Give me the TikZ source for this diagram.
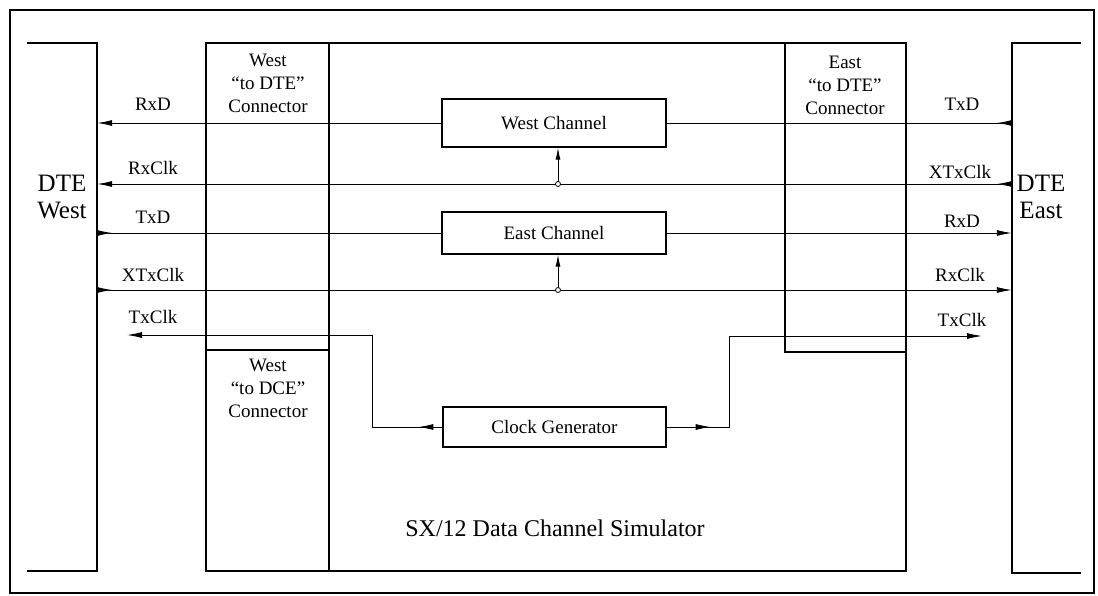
\documentclass[tikz,border=0pt]{standalone}
\usepackage{fontspec}
\setmainfont{Liberation Serif}
\usetikzlibrary{arrows.meta,decorations.markings}
\tikzset{
  sig/.style={line width=0.9pt},
  tipA/.tip={Latex[length=15pt,width=6pt]},
  boxn/.style={draw,line width=1.3pt,inner sep=0pt,font=\fontsize{19}{23}\selectfont},
  region/.style={draw,line width=1.3pt,inner sep=0pt},
  ghost/.style={inner sep=0pt},
  lbl/.style={inner sep=0pt,font=\fontsize{19}{23}\selectfont,align=center},
  biglbl/.style={inner sep=0pt,font=\fontsize{25}{27}\selectfont,align=center},
  brk/.style={line width=1.5pt},
  tapc/.style={circle,draw,fill=white,line width=0.8pt,inner sep=0pt,minimum size=5pt},
  midarrow/.style={postaction={decorate},decoration={markings,mark=at position #1 with {\arrow{tipA}}}}
}
\begin{document}
\begin{tikzpicture}[x=1pt,y=-1pt]
\useasboundingbox (0,0) rectangle (1098,595);
% outer frame
\draw[line width=1.2pt] (10,10) rectangle (1094,593);

% DTE brackets
\node[ghost,minimum width=70pt,minimum height=528pt] (dteW) at (62,307) {};
\draw[brk] (dteW.north west) -- (dteW.north east) -- (dteW.south east) -- (dteW.south west);
\node[ghost,minimum width=69pt,minimum height=530pt] (dteE) at (1046.5,308) {};
\draw[brk] (dteE.north east) -- (dteE.north west) -- (dteE.south west) -- (dteE.south east);
\node[biglbl] (dteWt) at (62,197) {DTE\\West};
\node[biglbl] (dteEt) at (1041,197) {DTE\\East};

% simulator and connector regions
\node[region,minimum width=700pt,minimum height=528pt] (sim) at (556,307) {};
\node[region,minimum width=123pt,minimum height=307pt] (wdte) at (267.5,196.5) {};
\node[region,minimum width=123pt,minimum height=221pt] (wdce) at (267.5,460.5) {};
\node[region,minimum width=121pt,minimum height=309pt] (edte) at (845.5,197.5) {};
\node[lbl] (wdteT) at (268,83) {West\\“to DTE”\\Connector};
\node[lbl] (wdceT) at (268,388) {West\\“to DCE”\\Connector};
\node[lbl] (edteT) at (845,85) {East\\“to DTE”\\Connector};

% channel boxes
\node[boxn,minimum width=224pt,minimum height=48pt] (wc) at (554,123) {West Channel};
\node[boxn,minimum width=224pt,minimum height=42pt] (ec) at (554,233) {East Channel};
\node[boxn,minimum width=223pt,minimum height=40pt] (cg) at (554.5,427) {Clock Generator};

% taps
\coordinate (t1) at (558,184);
\coordinate (t2) at (558,290);

% signals
\draw[sig,-tipA] (wc.west) -- (wc.west -| dteW.east);
\draw[sig,{tipA[reversed]}-] (wc.east -| dteE.west) -- (wc.east);
\draw[sig,{tipA[reversed]}-tipA] (t1 -| dteE.west) -- (t1 -| dteW.east);
\draw[sig,{tipA[reversed]}-] (ec.west -| dteW.east) -- (ec.west);
\draw[sig,-tipA] (ec.east) -- (ec.east -| dteE.west);
\draw[sig,{tipA[reversed]}-tipA] (t2 -| dteW.east) -- (t2 -| dteE.west);
\draw[sig,-{Latex[length=12pt,width=5pt]}] (t1) -- (t1 |- wc.south);
\draw[sig,-{Latex[length=12pt,width=5pt]}] (t2) -- (t2 |- ec.south);
\node[tapc] (c1) at (t1) {};
\node[tapc] (c2) at (t2) {};

% clock lines
\coordinate (jw) at (372,335);
\coordinate (txw) at (127,335);
\coordinate (je) at (729,336);
\coordinate (txe) at (982,336);
\draw[sig,-tipA,midarrow=24pt] (cg.west) -| (jw) -- (txw);
\draw[sig,-tipA,midarrow=44pt] (cg.east) -| (je) -- (txe);

% signal labels west
\node[lbl] (lw1) at (153,104) {RxD};
\node[lbl] (lw2) at (153,168) {RxClk};
\node[lbl] (lw3) at (153,217) {TxD};
\node[lbl] (lw4) at (153,275) {XTxClk};
\node[lbl] (lw5) at (153,317) {TxClk};
% signal labels east
\node[lbl] (le1) at (962,104) {TxD};
\node[lbl] (le2) at (960,172) {XTxClk};
\node[lbl] (le3) at (962,221) {RxD};
\node[lbl] (le4) at (960,275) {RxClk};
\node[lbl] (le5) at (962,320) {TxClk};

\node[biglbl,font=\fontsize{24}{27}\selectfont] (title) at (555,528) {SX/12 Data Channel Simulator};
\end{tikzpicture}
\end{document}
